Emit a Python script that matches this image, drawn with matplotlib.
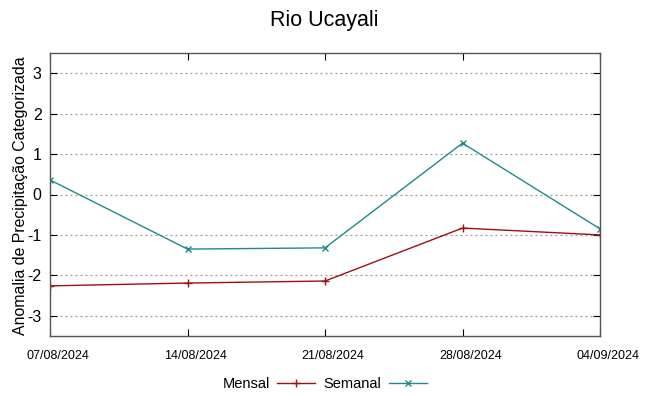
import matplotlib
matplotlib.use('Agg')
import matplotlib.pyplot as plt
import matplotlib.transforms as mtransforms

dates = ['07/08/2024', '14/08/2024', '21/08/2024', '28/08/2024', '04/09/2024']
mensal = [-2.26, -2.19, -2.14, -0.83, -1.0]
semanal = [0.36, -1.35, -1.32, 1.27, -0.85]
yticks = [-3, -2, -1, 0, 1, 2, 3]

plt.rcParams['font.family'] = ['Liberation Sans', 'DejaVu Sans']

fig = plt.figure(figsize=(6.49, 3.96), dpi=100)
ax = fig.add_axes([50 / 649, 60 / 396, 550 / 649, 283 / 396])

x = list(range(len(dates)))
ax.plot(x, mensal, color='#a01010', linewidth=1, marker='+', markersize=6,
        markeredgewidth=1, label='Mensal')
ax.plot(x, semanal, color='#208a8a', linewidth=1, marker='x', markersize=5,
        markeredgewidth=1, label='Semanal')

ax.set_xlim(0, 4)
ax.set_ylim(-3.5, 3.5)
ax.set_yticks(yticks)
ax.set_yticklabels([str(v) for v in yticks], fontsize=11.5)
ax.set_xticks(x)
ax.set_xticklabels(dates, fontsize=9,
                   fontfamily=['Liberation Sans Narrow', 'Liberation Sans', 'DejaVu Sans'])
ax.tick_params(direction='in', top=True, right=True, length=5, width=0.8, pad=6)
ax.tick_params(axis='x', pad=10)
# gnuplot puts the date labels a bit to the right of the tick
shift = mtransforms.ScaledTranslation(8 / 100, 0, fig.dpi_scale_trans)
for lab in ax.get_xticklabels():
    lab.set_transform(lab.get_transform() + shift)
ax.grid(axis='y', linestyle=(0, (1.5, 2.5)), color='#999999', linewidth=0.9)
for s in ax.spines.values():
    s.set_color('#555555')
    s.set_linewidth(1)

ax.set_ylabel('Anomalia de Precipitação Categorizada', fontsize=11.4)
ax.yaxis.set_label_coords(-0.040, 0.495)
fig.suptitle('Rio Ucayali', fontsize=15.5, y=0.975)

fig.legend(loc='lower center', bbox_to_anchor=(0.5, -0.02), ncol=2, frameon=False,
           markerfirst=False, fontsize=10.5, handlelength=2.6, columnspacing=0.6,
           handletextpad=0.5)

fig.savefig('out.png', dpi=100)
